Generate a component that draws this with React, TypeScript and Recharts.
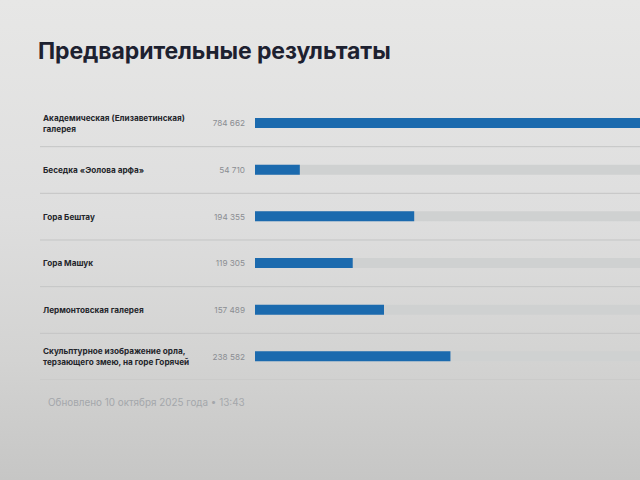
import React from "react";
import { BarChart, Bar, XAxis, YAxis } from "recharts";

const categories: string[][] = [
  ["Академическая (Елизаветинская)", "галерея"],
  ["Беседка «Эолова арфа»"],
  ["Гора Бештау"],
  ["Гора Машук"],
  ["Лермонтовская галерея"],
  ["Скульптурное изображение орла,", "терзающего змею, на горе Горячей"],
];
const votes: number[] = [784662, 54710, 194355, 119305, 157489, 238582];
const valueLabels: string[] = ["784 662", "54 710", "194 355", "119 305", "157 489", "238 582"];

const title = "Предварительные результаты";
const footer = "Обновлено 10 октября 2025 года • 13:43";

const data = categories.map((lines, i) => ({
  name: lines.join(" "),
  lines,
  value: votes[i],
  label: valueLabels[i],
}));

const CHART_W = 640;
const CHART_H = 280;
const ROW_H = CHART_H / data.length;
const FONT = "Inter, 'Noto Sans', Roboto, sans-serif";

const Tick = (props: any) => {
  const { y, payload, index } = props;
  const row = data[index] ?? data.find((d) => d.name === payload.value);
  if (!row) return null;
  const lines = row.lines;
  const lh = 11;
  const startY = y - ((lines.length - 1) * lh) / 2;
  return (
    <g>
      {lines.map((l: string, k: number) => (
        <text
          key={k}
          x={43}
          y={startY + k * lh}
          dy="0.35em"
          fontSize={8.2}
          fontWeight={700}
          fill="#24262b"
          fontFamily={FONT}
        >
          {l}
        </text>
      ))}
      <text
        x={245}
        y={y}
        dy="0.35em"
        textAnchor="end"
        fontSize={8.2}
        fill="#8a8d92"
        fontFamily={FONT}
      >
        {row.label}
      </text>
      <line x1={40} x2={CHART_W} y1={y + ROW_H / 2} y2={y + ROW_H / 2} stroke="#c4c5c5" strokeWidth={1} />
    </g>
  );
};

export default function App() {
  return (
    <div
      style={{
        position: "absolute",
        left: 0,
        top: 0,
        width: 640,
        height: 480,
        overflow: "hidden",
        background: "linear-gradient(180deg, #e7e7e6 0%, #dedede 45%, #d3d3d2 75%, #c6c6c5 100%)",
        fontFamily: FONT,
      }}
    >
      <div
        style={{
          position: "absolute",
          left: 38,
          top: 37,
          fontSize: 23,
          fontWeight: 700,
          color: "#1d2130",
          letterSpacing: -0.1,
          whiteSpace: "nowrap",
        }}
      >
        {title}
      </div>
      <div style={{ position: "absolute", left: 0, top: 100 }}>
        <BarChart
          width={CHART_W}
          height={CHART_H}
          data={data}
          layout="vertical"
          margin={{ top: 0, right: 0, bottom: 0, left: 0 }}
          barCategoryGap={0}
        >
          <XAxis type="number" hide domain={[0, 470000]} allowDataOverflow />
          <YAxis
            type="category"
            dataKey="name"
            width={255}
            axisLine={false}
            tickLine={false}
            tick={<Tick />}
            interval={0}
          />
          <Bar
            dataKey="value"
            fill="#1b6aae"
            barSize={10}
            background={{ fill: "#cfd1d1" }}
            isAnimationActive={false}
          />
        </BarChart>
      </div>
      <div
        style={{
          position: "absolute",
          left: 48,
          top: 396,
          fontSize: 9.9,
          color: "#a4a7ab",
          whiteSpace: "nowrap",
        }}
      >
        {footer}
      </div>
    </div>
  );
}
